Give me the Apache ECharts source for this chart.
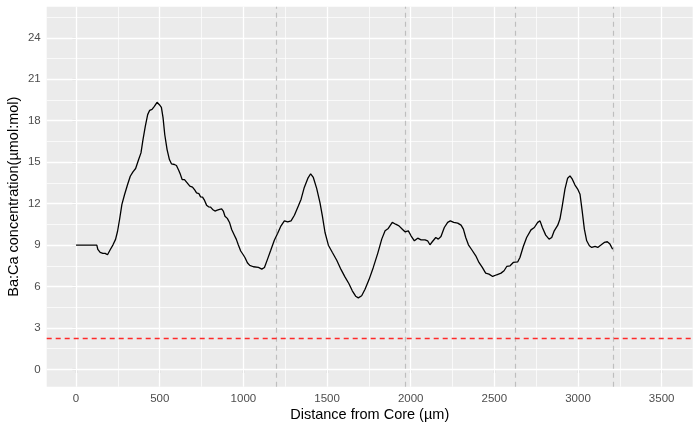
<!DOCTYPE html>
<html>
<head>
<meta charset="utf-8">
<script src="https://cdn.jsdelivr.net/npm/echarts@6/dist/echarts.min.js"></script>
<style>html,body{margin:0;padding:0;background:#fff;}#c{width:700px;height:432px;}</style>
</head>
<body>
<div id="c"></div>
<script>
const distance = [0,124,130,144,160,174,188,204,220,236,248,260,274,290,308,324,340,356,374,388,400,414,428,440,454,468,484,498,510,520,530,544,558,570,588,600,614,624,634,648,664,680,696,710,720,734,744,756,768,780,792,804,816,830,844,858,870,880,890,904,918,930,944,958,970,984,1000,1010,1024,1038,1060,1090,1110,1126,1145,1163,1185,1205,1225,1245,1265,1285,1305,1329,1345,1364,1385,1402,1418,1438,1458,1472,1488,1508,1532,1558,1584,1607,1631,1651,1671,1687,1707,1727,1751,1777,1803,1827,1847,1866,1890,1910,1930,1950,1966,1986,2002,2022,2042,2062,2086,2101,2115,2129,2150,2165,2181,2201,2221,2237,2257,2281,2301,2315,2329,2345,2365,2389,2408,2428,2448,2468,2490,2514,2540,2558,2574,2594,2613,2640,2653,2673,2693,2719,2739,2759,2773,2787,2807,2827,2843,2858,2879,2892,2906,2922,2938,2952,2966,2982,2998,3012,3026,3038,3052,3068,3082,3102,3118,3137,3157,3175,3191,3207];
const baca = [9.0,9.0,8.69,8.47,8.40,8.40,8.30,8.66,9.0,9.41,10.0,10.85,11.94,12.66,13.38,13.98,14.30,14.54,15.19,15.67,16.63,17.6,18.44,18.75,18.82,19.04,19.33,19.16,18.97,18.2,17.0,15.91,15.19,14.88,14.83,14.76,14.39,14.1,13.74,13.74,13.50,13.26,13.19,12.97,12.78,12.73,12.49,12.47,12.23,11.89,11.77,11.75,11.58,11.46,11.53,11.58,11.62,11.46,11.09,10.93,10.61,10.13,9.77,9.41,9.0,8.57,8.28,8.08,7.72,7.53,7.43,7.38,7.26,7.38,8.0,8.6,9.35,9.85,10.39,10.75,10.68,10.75,11.16,11.84,12.32,13.17,13.82,14.16,13.89,13.1,12.05,11.11,9.91,8.99,8.46,7.9,7.22,6.7,6.2,5.69,5.3,5.18,5.33,5.8,6.5,7.4,8.4,9.43,10.03,10.20,10.64,10.51,10.39,10.15,9.96,10.03,9.67,9.31,9.50,9.38,9.38,9.31,9.02,9.24,9.55,9.43,9.62,10.27,10.64,10.75,10.64,10.59,10.44,10.15,9.55,9.02,8.66,8.22,7.74,7.38,6.97,6.90,6.73,6.85,6.97,7.14,7.45,7.50,7.74,7.79,8.10,8.90,9.55,10.10,10.27,10.64,10.75,10.27,9.72,9.43,9.55,10.03,10.44,10.88,11.84,13.05,13.84,14.01,13.77,13.34,13.05,12.68,11.36,10.15,9.31,8.95,8.83,8.90,8.83,9.0,9.19,9.24,9.07,8.70];
const xTicks = [0,500,1000,1500,2000,2500,3000,3500];
const xMinor = [250,750,1250,1750,2250,2750,3250];
const yTicks = [0,3,6,9,12,15,18,21,24];
const yMinor = [1.5,4.5,7.5,10.5,13.5,16.5,19.5,22.5,25.5];
const vLines = [1195,1970,2623,3211];
const hLine = 2.26;
const xLimits = [0, 3510];
const yLimits = [0, 25];

const xPad = (xLimits[1]-xLimits[0])*0.05;
const yPad = (yLimits[1]-yLimits[0])*0.05;
const FONT = "'Liberation Sans', Arial, sans-serif";

const gridLines = []
  .concat(xMinor.map(v => ({xAxis: v, lineStyle: {color:'#fff', width:0.7, type:'solid'}})))
  .concat(yMinor.map(v => ({yAxis: v, lineStyle: {color:'#fff', width:0.7, type:'solid'}})))
  .concat(xTicks.map(v => ({xAxis: v, lineStyle: {color:'#fff', width:1.3, type:'solid'}})))
  .concat(yTicks.map(v => ({yAxis: v, lineStyle: {color:'#fff', width:1.3, type:'solid'}})));

const refLines = []
  .concat(vLines.map(v => ({xAxis: v, lineStyle: {color:'#bebebe', width:1.2, type:[5,4]}})))
  .concat([{yAxis: hLine, lineStyle: {color:'#ff2a2a', width:1.4, type:[5,4]}}]);

const chart = echarts.init(document.getElementById('c'), null, {renderer:'canvas'});
chart.setOption({
  animation: false,
  backgroundColor: '#fff',
  textStyle: {fontFamily: FONT},
  grid: {left: 46.7, right: 7.3, top: 6.7, bottom: 45.3, show: true, backgroundColor: '#ebebeb', borderWidth: 0,
         containLabel: false, outerBoundsMode: 'none'},
  xAxis: {
    type: 'value', min: xLimits[0]-xPad, max: xLimits[1]+xPad,
    axisLine: {show: false},
    splitLine: {show: false},
    axisTick: {show: true, customValues: xTicks, length: 3.7, lineStyle: {color:'#333', width:1.1}},
    axisLabel: {customValues: xTicks, formatter: v => String(v), color:'#4d4d4d', fontSize: 11.5, fontFamily: FONT, margin: 6},
    name: 'Distance from Core (µm)', nameLocation: 'middle', nameGap: 21, nameMoveOverlap: false,
    nameTextStyle: {color:'#000', fontSize: 14.5, fontFamily: FONT}
  },
  yAxis: {
    type: 'value', min: yLimits[0]-yPad, max: yLimits[1]+yPad,
    axisLine: {show: false},
    splitLine: {show: false},
    axisTick: {show: true, customValues: yTicks, length: 3.7, lineStyle: {color:'#333', width:1.1}},
    axisLabel: {customValues: yTicks, formatter: v => String(v), color:'#4d4d4d', fontSize: 11.5, fontFamily: FONT, margin: 6},
    name: 'Ba:Ca concentration(µmol:mol)', nameLocation: 'middle', nameGap: 25, nameRotate: 90, nameMoveOverlap: false,
    nameTextStyle: {color:'#000', fontSize: 14.5, fontFamily: FONT}
  },
  series: [
    {type:'line', data: [], z: 1, silent: true,
     markLine: {z: 1, silent: true, symbol: ['none','none'], label: {show:false}, animation:false, data: gridLines}},
    {type:'line', data: [], z: 2, silent: true,
     markLine: {z: 2, silent: true, symbol: ['none','none'], label: {show:false}, animation:false, data: refLines}},
    {type:'line', z: 3, data: distance.map((d,i) => [d, baca[i]]), showSymbol: false, symbol:'none',
     lineStyle: {color:'#000', width: 1.3, type: 'solid'}, silent: true}
  ]
});
</script>
</body>
</html>
